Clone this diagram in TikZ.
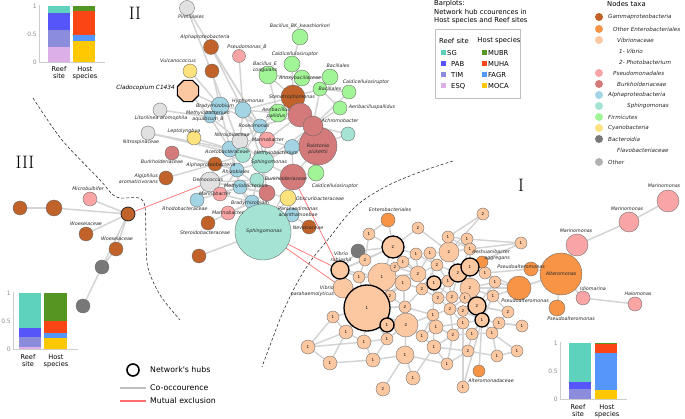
\documentclass[tikz,border=0pt]{standalone}
\usepackage{fontspec}
\newfontfamily\dv{DejaVu Sans}
\usetikzlibrary{shapes.geometric}
\definecolor{cgam}{RGB}{192,98,42}
\definecolor{cent}{RGB}{247,148,70}
\definecolor{cvib}{RGB}{252,200,162}
\definecolor{cpse}{RGB}{250,165,165}
\definecolor{cbur}{RGB}{212,122,122}
\definecolor{calp}{RGB}{162,212,228}
\definecolor{csph}{RGB}{165,228,212}
\definecolor{cfir}{RGB}{162,245,150}
\definecolor{ccya}{RGB}{253,226,125}
\definecolor{cbac}{RGB}{120,120,120}
\definecolor{coth}{RGB}{225,225,225}
\definecolor{cothl}{RGB}{178,178,178}
\definecolor{cSG}{RGB}{95,210,190}
\definecolor{cPAB}{RGB}{85,85,250}
\definecolor{cTIM}{RGB}{140,140,220}
\definecolor{cESQ}{RGB}{220,175,232}
\definecolor{cMUBR}{RGB}{85,150,35}
\definecolor{cMUHA}{RGB}{250,70,20}
\definecolor{cFAGR}{RGB}{85,150,250}
\definecolor{cMOCA}{RGB}{255,200,0}
\definecolor{cedge}{RGB}{212,212,212}
\definecolor{cred}{RGB}{255,110,110}
\definecolor{cax}{RGB}{205,205,205}
\pgfdeclarelayer{bg}
\pgfsetlayers{bg,main}
\tikzset{
  nd/.style={circle, draw=black!60, line width=0.35pt, inner sep=0pt, font=\dv\fontsize{4}{4}\selectfont},
  hubst/.style={nd, draw=black, line width=1.3pt},
  lb/.style={font=\dv\itshape\fontsize{4.8}{6}\selectfont, inner sep=0pt, align=center, text=black!85},
  co/.style={draw=cedge, line width=1.5pt},
  mx/.style={draw=cred, line width=0.7pt},
  ax/.style={draw=cax, line width=0.8pt},
  tk/.style={font=\dv\fontsize{6}{6}\selectfont, text=black!45, anchor=east, inner sep=1pt},
  bl/.style={font=\dv\fontsize{6.6}{7.6}\selectfont, align=center, inner sep=0pt, anchor=north},
  lg/.style={font=\dv\fontsize{6.8}{8.3}\selectfont, inner sep=0pt, anchor=west},
  lgi/.style={font=\dv\itshape\fontsize{5.6}{6}\selectfont, inner sep=0pt, anchor=west, text=black!85},
  ldot/.style={circle, inner sep=0pt, minimum size=8pt},
  sq/.style={inner sep=0pt, minimum size=5pt},
  dsh/.style={draw=black!80, line width=0.6pt, dash pattern=on 3pt off 2pt},
  roman/.style={font=\fontsize{18}{18}\selectfont, inner sep=0pt}
}
\begin{document}
\begin{tikzpicture}[x=1pt,y=-1pt]
\useasboundingbox (0,0) rectangle (685,419);

% ---------- section numbers ----------
\node[roman] (secII) at (135,13) {II};
\node[roman] (secIII) at (25,162) {III};
\node[roman] (secI) at (521,185) {I};

% ---------- dashed boundaries ----------
\draw[dsh] plot[smooth, tension=0.5] coordinates {(33,98) (62,140) (100,180) (112,194) (120,198) (139,198) (145,207) (146,240) (148,268) (160,295) (180,320)};
\draw[dsh] plot[smooth, tension=0.6] coordinates {(453,161) (420,172) (385,187) (355,207) (330,237) (310,262) (296,285) (283,312) (272,340) (262,367)};

% ---------- cluster II nodes ----------
\foreach \n/\x/\y/\d/\c in {
 p1/187/8/15/coth, a1/211/47/15/cgam, a2/212/71/14/cgam, psB/239/56/13/cpse,
 vul/190/71/14/ccya, lit/160/110/14/coth, lep/194/138/14/ccya, nis/148/133/14/coth,
 bk1/172/153/14/cbur, alg/166/178/14/cgam, alph/215/164/14/cgam, dei/210/182/20/coth,
 rho/197/200/14/calp, mar1/220/194/14/cpse, mar2/228/213/14/cpse, br1/208/223/14/cgam,
 br2/199/256/14/cgam, ace/230/149/16/calp, nsp/240/141/16/coth, mar3/267/140/16/cpse,
 ros/260/126/14/calp, lb1/292/147/15/calp, aq2/243/155/15/csph, sph1/263/162/22/csph,
 rhz/237/170/14/calp, aq3/257/180/14/csph, mtb/240/187/14/calp, bk2/293/177/26/cbur,
 bk3/267/193/16/cbur, bra2/252/202/14/calp, obs/288/198/16/ccya, par/292/215/14/calp,
 nev/309/227/14/cgam, sphb/263/232/56/csph, ral/318/146/38/cbur, cal1/316/173/16/cfir,
 aq4/348/134/14/csph, bbk/300/37/16/cfir, cal2/292/64/16/cfir, bac/268/75/18/cfir,
 ano/302/78/16/cfir, bl1/330/77/16/cfir, bl2/320/89/14/cfir, cal3/349/92/14/cfir,
 aer/340/108/14/cfir, ste/293/97/24/cgam, aep/278/113/18/cfir, dr1/300/115/24/cbur,
 dr2/313/126/20/cbur, hyp/243/110/16/calp, bra/220/106/18/calp, mta/210/117/12/calp}
 \node[nd, fill=\c, minimum size={\d*1pt}] (\n) at (\x,\y) {};
\node[regular polygon, regular polygon sides=8, draw=black, line width=1.1pt, fill=cvib, minimum size=23pt, inner sep=0pt] (clad) at (188,91) {};

% ---------- cluster III nodes ----------
\foreach \n/\x/\y/\d/\c in {
 b1/20/208/14/cgam, b2/54/208/16/cgam, mic/90/199/14/cpse, w1/86/234/14/cgam,
 w2/116/249/14/cgam, gy1/102/267/14/cbac, gy2/83/306/14/cbac}
 \node[nd, fill=\c, minimum size={\d*1pt}] (\n) at (\x,\y) {};
\node[nd, fill=cgam, draw=black!85, line width=0.8pt, minimum size=14pt] (hb3) at (128,214) {};

% ---------- cluster I nodes ----------
\foreach \n/\x/\y/\d/\t/\c in {
 e1/388/220/14/{}/cent, c1/369/234/12/1/cvib, c2/418/228/12/2/cvib, g1/358/251/14/{}/cbac,
 c3/365/260/12/2/cvib, c4/359/277/12/1/cvib, c5/382/277/28/1/cvib, c6/395/267/10/2/cvib,
 c7/403/262/12/1/cvib, c8/416/254/12/1/cvib, c9/430/253/12/1/cvib, c10/437/265/12/2/cvib,
 c11/449/252/20/2/cvib, c12/448/237/12/1/cvib, c13/467/239/12/1/cvib, c14/470/249/12/1/cvib,
 c15/403/283/16/1/cvib, c16/418/274/16/2/cvib, c17/448/281/12/1/cvib, c18/470/288/20/2/cvib,
 c19/485/273/12/1/cvib, ae1/482/262/12/{}/cent, c20/495/282/12/1/cvib, c21/493/296/12/1/cvib,
 vp/343/288/20/{}/cvib, c22/390/296/12/2/cvib, c23/422/289/12/2/cvib, c24/438/298/12/2/cvib,
 c25/452/297/12/2/cvib, c26/465/298/11/1/cvib, c27/405/307/12/2/cvib, c28/433/315/12/1/cvib,
 c29/450/309/12/2/cvib, c30/333/317/12/1/cvib, c31/346/332/14/1/cvib, c32/364/342/14/1/cvib,
 c33/308/347/14/1/cvib, c34/330/363/14/1/cvib, c35/373/360/14/1/cvib, c36/387/339/12/1/cvib,
 c37/406/325/24/2/cvib, c38/405/355/18/1/cvib, c39/422/336/12/1/cvib, c40/436/327/14/1/cvib,
 c41/434/347/14/1/cvib, c42/413/378/14/1/cvib, c43/383/389/14/2/cvib, c44/447/364/12/1/cvib,
 c45/453/335/12/2/cvib, c46/463/323/12/1/cvib, c47/463/311/11/2/cvib, c48/472/334/12/1/cvib,
 c49/468/351/12/2/cvib, c50/492/333/12/1/cvib, c51/499/323/12/1/cvib, c52/508/312/12/2/cvib,
 c53/497/356/12/1/cvib, c54/517/351/12/1/cvib, c55/522/326/12/1/cvib, c56/463/387/12/1/cvib,
 alt2/479/371/12/{}/cent, c57/483/214/12/2/cvib, c58/521/243/12/1/cvib,
 ps1/531/269/14/{}/cent, ps2/519/288/24/{}/cent, alt/561/274/42/{}/cent, ps3/557/308/16/{}/cent,
 mm1/577/245/22/{}/cpse, mm2/629/222/20/{}/cpse, mm3/668/201/22/{}/cpse,
 idi/583/298/14/{}/cpse, hal/635/304/14/{}/cpse}
 \node[nd, fill=\c, minimum size={\d*1pt}] (\n) at (\x,\y) {\t};
% hubs
\foreach \n/\x/\y/\d/\t in {
 h1/393/247/22/2, vh/340/270/18/{}, h2/434/283/14/1, h3/458/273/18/2, h4/470/267/18/1,
 h5/477/306/18/2, h6/482/320/14/1, bh/367/308/46/1, h7/387/325/14/1}
 \node[hubst, fill=cvib, minimum size={\d*1pt}] (\n) at (\x,\y) {\t};

% ---------- edges ----------
\begin{pgfonlayer}{bg}
\foreach \a/\b in {
 p1/ros, p1/aq2, a1/ros, a1/hyp, a2/bra, psB/hyp, vul/bra, clad/mta, clad/bra, lit/mta,
 lep/ace, nis/aq2, nis/ace, bk1/alph, bk1/rhz, alg/alph, alph/aq2, alph/rhz, dei/rhz, dei/aq3,
 dei/mtb, dei/bk3, rho/mtb, mar1/mtb, mar2/bra2, br1/bra2, br2/sphb, ace/nsp, ace/aq2, nsp/mar3,
 mar3/ros, mar3/lb1, ros/hyp, hyp/bra, hyp/sph1, bra/mta, bra/ace, lb1/bk2, lb1/ral, sph1/bk2,
 sph1/aq2, sph1/rhz, aq3/bk3, mtb/bk3, bk2/obs, bk2/ral, bk2/cal1, bk3/bra2, bra2/sphb, obs/par,
 par/nev, par/sphb, bk3/sphb, sph1/sphb, ral/dr2, ral/aq4, ral/cal1, ste/dr1, ste/bac, ste/ano,
 ste/cal2, ste/bl2, ste/aep, dr1/dr2, dr1/aep, dr2/bl2, dr2/aer, dr2/cal3, bbk/cal2, cal2/ano,
 bac/ano, ano/bl1, bl1/bl2, bl2/cal3, aer/bl2, hyp/ste, hyp/aep, ros/dr1, sph1/dr2, lb1/sph1,
 nsp/hyp, aq2/rhz, rhz/mtb, aq3/mtb, ace/rhz, mar1/rhz, bk2/aq3, bac/aep, ros/ste, mar3/dr1,
 aq2/ros, bk2/sphb, mtb/sphb, obs/sphb, ral/ste, aq4/dr2, ace/ros, nsp/sph1,
 mta/ace, mta/nsp, bra/ros, hyp/mar3, aq3/sph1, aq3/bra2, mtb/bra2, rhz/bk3, mar3/sph1,
 lb1/dr2, ros/sph1, nsp/aq2, dei/alph, rho/dei, mar1/bra2, ace/mtb, bk3/obs, sph1/bk3,
 b1/b2, b2/hb3, mic/hb3, w1/hb3, w2/hb3, gy1/hb3, gy1/w2, gy2/gy1,
 e1/h1, e1/c1, c1/h1, c1/c3, c2/h1, c2/c11, g1/h1, g1/vh, vh/c3, vh/c5, vh/bh, vh/vp, vh/h1,
 c3/h1, c4/c5, c5/h1, c5/bh, c6/c5, c7/h1, c8/h1, c7/c8, c8/c9, c9/c10, c9/c11, c10/c11,
 c11/c12, c11/c13, c11/c14, c12/c13, c57/c11, c57/c12, c58/h4, c58/c14, c58/c13, c15/c5,
 c15/bh, c16/c5, c16/h2, h1/c16, h2/c17, h2/h3, h3/h4, c10/h3, h4/c19, h4/ae1, h3/c18,
 c18/c20, c18/c21, c18/h5, h5/h6, h5/c21, h5/c26, h6/c51, h6/c50, h6/c46, c22/bh, c22/c15,
 c23/c16, c23/c24, c24/c25, c24/h2, c25/h3, c17/c25, c27/c37, c27/bh, c22/c27, c28/c29,
 c27/c28, c29/h5, c26/c29, c29/c47, c47/h5, c47/h6, c30/bh, c30/c33, c31/c33, c32/c33,
 c33/c34, c34/c31, c34/c35, c35/c32, c31/bh, c32/bh, c36/bh, h7/bh, c37/bh, c37/c15, h7/c37,
 c36/c37, c38/c37, c38/c42, c38/c43, c35/c38, c39/c37, c40/c28, c39/c40, c41/c39, c42/c41,
 c44/c41, c44/c38, c45/c46, c40/c45, c45/c48, c48/h6, c49/c48, c50/c53, c51/c52, c52/h5,
 c54/c50, c55/h6, c55/c51, c54/c53, c56/c46, c56/h6, alt2/h6, c20/h5, c21/c52, ps2/alt,
 ps1/alt, ps3/alt, ps2/h4, ps2/c20, ps1/c19, alt/mm1, mm1/mm2, mm2/mm3, alt/idi, idi/hal,
 alt/c21, bh/c4, c41/c28, c16/c15, c23/h2, c17/h3, c28/c39, c45/c40,
 c5/c7, c6/c7, c6/c16, c16/c8, c16/c9, c15/c23, c23/c10, c10/c17, c17/c24, c24/c29, c25/c26,
 c18/c26, h2/c28, c27/c23, c37/c28, c37/c39, bh/c36, bh/c27, c12/c14, c14/h4, c13/c14, h3/c14,
 h4/c18, c19/c20, c20/c21, c21/h6, h5/c52, c46/c48, c48/c50, c46/c29, c45/c41, c44/c49,
 c49/c53, ps2/c18, c9/h2, c8/c10, c7/c16, h1/c7, c5/c22, c15/c27, c3/c4, vh/c4, c11/h3,
 c10/c16, h2/c25, c29/c45, c40/c46, c47/c46, h6/c48, c50/c51, c49/c41, bh/c31, c31/c32,
 c36/c32, c36/h7, c22/h7, c35/c36, c30/c31, c44/c45, c28/c40}
 \draw[co] (\a) -- (\b);
\draw[mx] (hb3) -- (dei);
\draw[mx] (bk2) -- (vh);
\draw[mx] (sphb) -- (vh);
\draw[mx] (sphb) -- (vp);
\end{pgfonlayer}

% ---------- node labels ----------
\foreach \x/\y/\t [count=\i] in {
 191/17/Pirellulales, 205/37/Alphaproteobacteria, 247/47/Pseudomonas\_B, 178/61/Vulcanococcus,
 161/118/Litorilinea aromophila, 184/131/Leptolyngbya, 141/142/Nitrospinaceae,
 162/162/Burkholderiaceae, 211/165/Alphaproteobacteria, 208/180/Deinococcus,
 185/209/Rhodobacteraceae, 215/194/Marinobacter, 228/213/Marinobacter, 205/233/Steroidobacteraceae,
 227/152/Acetobacteraceae, 232/135/Nitrospiraceae, 268/140/Marinobacter, 254/126/Roseomonas,
 276/153/Methylobacterium, 269/162/Sphingomonas, 236/172/Rhizobiales, 246/186/Methylobacterium,
 286/179/Burkholderiaceae, 250/203/Bradyrhizobium, 320/199/Obscuribacteraceae,
 298/212/{Paracaedimonas\\acanthamoebae}, 308/228/Nevskiaceae, 264/231/Sphingomonas,
 318/149/{Ralstonia\\pickettii}, 335/186/Caldicellulosiruptor, 300/26/Bacillus\_BK\_kwashiorkori,
 295/54/Caldicellulosiruptor, 265/67/{Bacillus\_E\\coagulans}, 300/78/Anoxybacillaceae,
 338/66/Bacillales, 330/89/Bacillales, 366/82/Caldicellulosiruptor, 372/107/Aeribacilluspallidus,
 340/121/Achromobacter, 292/97/Stenotrophomonas, 276/113/{Aeribacillus\\pallidus},
 248/101/Hyphomonas, 215/106/Bradyrhizobium, 208/116/{Methylobacterium\\aquaticum\_B},
 88/189/Microbulbifer, 86/224/Woeseiaceae, 117/239/Woeseiaceae,
 390/210/Enterobacteriales, 341/256.5/{Vibrio\\rubiashii}, 521/267/Pseudoalteromonas,
 525/301/Pseudoalteromonas, 571/319/Pseudoalteromonas, 561/274/Alteromonas,
 576/231/Marinomonas, 627/209/Marinomonas, 664/186/Marinomonas, 593/289/Idiomarina,
 638/294/Halomonas, 491/381/Alteromonadaceae}
 \node[lb] (lab\i) at (\x,\y) {\t};
\node[lb, align=right, anchor=east] (labAlg) at (158,179) {Algiphilus\\aromaticivorans};
\node[lb, align=right, anchor=east] (labVp) at (334,291.5) {Vibrio\\parahaemolyticus};
\node[lb, align=right, anchor=east] (labAe) at (510,255.5) {Aeshuanibacter\\aggregans};
\node[font=\dv\itshape\fontsize{5.8}{6}\selectfont, inner sep=0pt, anchor=east] (labClad) at (175,88) {Cladocopium C1434};

% ---------- barplot 1 (top left) ----------
\begin{scope}[shift={(39,62)}, y=56pt]
 \fill[cESQ] (9,0) rectangle (31,0.27);
 \fill[cTIM] (9,0.27) rectangle (31,0.58);
 \fill[cPAB] (9,0.58) rectangle (31,0.88);
 \fill[cSG] (9,0.88) rectangle (31,1);
 \fill[cMOCA] (34,0) rectangle (56,0.37);
 \fill[cFAGR] (34,0.37) rectangle (56,0.49);
 \fill[cMUHA] (34,0.49) rectangle (56,0.91);
 \fill[cMUBR] (34,0.91) rectangle (56,1);
 \draw[ax] (0,1.02) -- (0,0) -- (66,0);
 \node[tk] (pa1) at (-1,1) {1};
 \node[tk] (pa2) at (-1,0.5) {0.5};
 \node[tk] (pa3) at (-1,0) {0};
\end{scope}
\node[bl] (pa4) at (59,66) {Reef\\site};
\node[bl] (pa5) at (85,66) {Host\\species};

% ---------- barplot 2 (bottom left) ----------
\begin{scope}[shift={(13,349)}, y=56pt]
 \fill[cESQ] (6,0) rectangle (28,0.03);
 \fill[cTIM] (6,0.03) rectangle (28,0.22);
 \fill[cPAB] (6,0.22) rectangle (28,0.38);
 \fill[cSG] (6,0.38) rectangle (28,1);
 \fill[cMOCA] (31,0) rectangle (54,0.2);
 \fill[cFAGR] (31,0.2) rectangle (54,0.29);
 \fill[cMUHA] (31,0.29) rectangle (54,0.5);
 \fill[cMUBR] (31,0.5) rectangle (54,1);
 \draw[ax] (0,1.02) -- (0,0) -- (65,0);
 \node[tk] (pb1) at (-1,1) {1};
 \node[tk] (pb2) at (-1,0.5) {0.5};
 \node[tk] (pb3) at (-1,0) {0};
\end{scope}
\node[bl] (pb4) at (28,354) {Reef\\site};
\node[bl] (pb5) at (56,354) {Host\\species};

% ---------- barplot 3 (bottom right) ----------
\begin{scope}[shift={(560,399)}, y=56pt]
 \fill[cTIM] (9,0) rectangle (31,0.18);
 \fill[cPAB] (9,0.18) rectangle (31,0.31);
 \fill[cSG] (9,0.31) rectangle (31,1);
 \fill[cMOCA] (35,0) rectangle (57,0.16);
 \fill[cFAGR] (35,0.16) rectangle (57,0.83);
 \fill[cMUHA] (35,0.83) rectangle (57,0.98);
 \fill[cMUBR] (35,0.98) rectangle (57,1);
 \draw[ax] (0,1.02) -- (0,0) -- (67,0);
 \node[tk] (pc1) at (-1,1) {1};
 \node[tk] (pc2) at (-1,0.5) {0.5};
 \node[tk] (pc3) at (-1,0) {0};
\end{scope}
\node[bl] (pc4) at (578,404) {Reef\\site};
\node[bl] (pc5) at (607,404) {Host\\species};

% ---------- barplot legend ----------
\node[lg, align=left, anchor=north west] (bpt) at (434,0.5) {Barplots:\\Network hub ccourences in\\Host species and Reef sites};
\draw[draw=black!25, line width=0.8pt] (435,29) rectangle (520,98);
\node[lg, anchor=center] (rsh) at (454,41) {Reef site};
\node[lg, anchor=center] (hsh) at (499,41) {Host species};
\foreach \y/\c/\t/\xx [count=\i] in {53/cSG/SG/447, 64/cPAB/PAB/451, 75/cTIM/TIM/451, 86/cESQ/ESQ/451}
 { \node[sq, fill=\c] (rsq\i) at (443,\y) {};
   \node[lg] (rst\i) at (\xx,\y) {\t}; }
\foreach \y/\c/\t [count=\i] in {53/cMUBR/MUBR, 64/cMUHA/MUHA, 75/cFAGR/FAGR, 86/cMOCA/MOCA}
 { \node[sq, fill=\c] (hsq\i) at (484.5,\y) {};
   \node[lg] (hst\i) at (488,\y) {\t}; }

% ---------- taxa legend ----------
\node[lg] (ntt) at (607,4) {Nodes taxa};
\foreach \y/\c [count=\i] in {17/cgam, 29/cent, 40/cvib, 73/cpse, 84/cbur, 95/calp, 106/csph, 117/cfir, 128/ccya, 139/cbac, 162/cothl}
 \node[ldot, fill=\c] (tdot\i) at (599,\y) {};
\foreach \y/\xx/\t [count=\i] in {17/608/Gammaproteobacteria, 29/613/Other Enterobacteriales,
 40/617/Vibrionaceae, 51/619/1- Vibrio, 62/619/2- Photobacterium, 73/613/Pseudomonadales,
 84/617/Burkholderiaceae, 95/608/Alphaproteobacteria, 106/627/Sphingomonas, 117/608/Firmicutes,
 128/608/Cyanobacteria, 139/608/Bacteroidia, 150/617/Flavobacteriaceae, 162/608/Other}
 \node[lgi] (ttx\i) at (\xx,\y) {\t};

% ---------- bottom legend ----------
\node[circle, draw=black, line width=1.6pt, fill=white, minimum size=12pt, inner sep=0pt] (lghub) at (133,370) {};
\node[lg, font=\dv\fontsize{7.8}{8}\selectfont] (lgt1) at (150,370) {Network's hubs};
\coordinate (lc1a) at (120,388); \coordinate (lc1b) at (146,388);
\coordinate (lc2a) at (120,401); \coordinate (lc2b) at (146,401);
\draw[draw=black!25, line width=1.8pt] (lc1a) -- (lc1b);
\draw[draw=cred, line width=1.8pt] (lc2a) -- (lc2b);
\node[lg, font=\dv\fontsize{7.8}{8}\selectfont] (lgt2) at (150,388) {Co-occourence};
\node[lg, font=\dv\fontsize{7.8}{8}\selectfont] (lgt3) at (150,401) {Mutual exclusion};
\end{tikzpicture}
\end{document}
